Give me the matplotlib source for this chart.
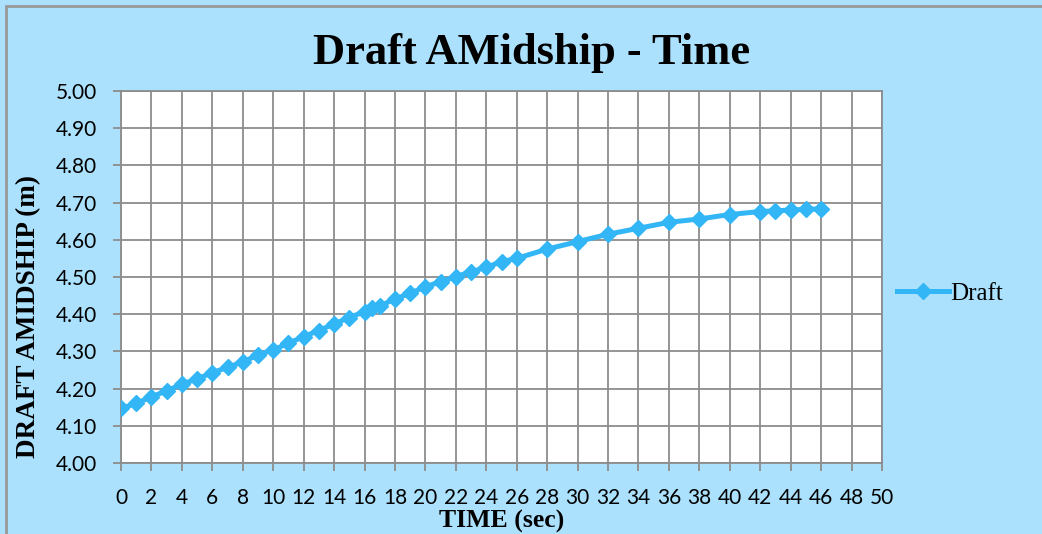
import matplotlib.pyplot as plt
from matplotlib.patches import Rectangle
from matplotlib.ticker import MultipleLocator, FormatStrFormatter

# time (sec) and midship draft (m)
time_sec = [0, 1, 2, 3, 4, 5, 6, 7, 8, 9, 10, 11, 12, 13, 14, 15, 16, 16.5, 17,
            18, 19, 20, 21, 22, 23, 24, 25, 26, 28, 30, 32, 34, 36, 38, 40,
            42, 43, 44, 45, 46]
draft = [4.147, 4.160, 4.178, 4.194, 4.212, 4.226, 4.243, 4.257, 4.272, 4.290,
         4.304, 4.322, 4.340, 4.356, 4.374, 4.391, 4.407, 4.416, 4.422,
         4.441, 4.456, 4.474, 4.487, 4.501, 4.514, 4.526, 4.541, 4.550,
         4.575, 4.595, 4.615, 4.631, 4.647, 4.656, 4.668,
         4.676, 4.678, 4.680, 4.682, 4.683]

bg = '#abe1fc'
line_col = '#33b6f6'
grid_col = '#8c8c8c'

fig = plt.figure(figsize=(10.42, 5.34), dpi=100, facecolor=bg)
fig.patches.append(Rectangle((6 / 1042, -0.05), 1.1, 1 - 6 / 534 + 0.05,
                             transform=fig.transFigure, fill=False,
                             edgecolor='#999999', linewidth=2))

ax = fig.add_axes([121 / 1042, 71 / 534, 761 / 1042, 372 / 534])
ax.set_facecolor('white')

ax.plot(time_sec, draft, color=line_col, linewidth=3.6, marker='D',
        markersize=7.8, label='Draft', zorder=3)

ax.set_xlim(0, 50)
ax.set_ylim(4.0, 5.0)
ax.xaxis.set_major_locator(MultipleLocator(2))
ax.yaxis.set_major_locator(MultipleLocator(0.1))
ax.yaxis.set_major_formatter(FormatStrFormatter('%.2f'))
ax.grid(True, color=grid_col, linewidth=1.3)
ax.set_axisbelow(True)
for s in ax.spines.values():
    s.set_color(grid_col)
    s.set_linewidth(1.3)

ax.tick_params(axis='both', colors=grid_col, width=1.3, length=6,
               labelcolor='black', labelsize=15)
for lab in ax.get_xticklabels() + ax.get_yticklabels():
    lab.set_family('Lato')
ax.tick_params(axis='x', pad=12)
ax.tick_params(axis='y', pad=11)

fig.text(0.4815, 6 / 534, 'TIME (sec)', ha='center', va='baseline',
         fontfamily='Liberation Serif', fontweight='bold', fontsize=18.5)

fig.text(29 / 1042, 1 - 316 / 534, 'DRAFT AMIDSHIP (m)', rotation=90,
         ha='center', va='center', fontfamily='Liberation Serif',
         fontweight='bold', fontsize=19.5)

fig.text(0.51, 0.9, 'Draft AMidship - Time', ha='center', va='center',
         fontfamily='Liberation Serif', fontweight='bold', fontsize=32)

leg = ax.legend(loc='center left', bbox_to_anchor=(0.99, 0.455), frameon=False,
                prop={'family': 'Liberation Serif', 'size': 18},
                handlelength=2.1, handletextpad=0.05, markerscale=1.0)

fig.savefig('out.png', dpi=100, facecolor=bg)
